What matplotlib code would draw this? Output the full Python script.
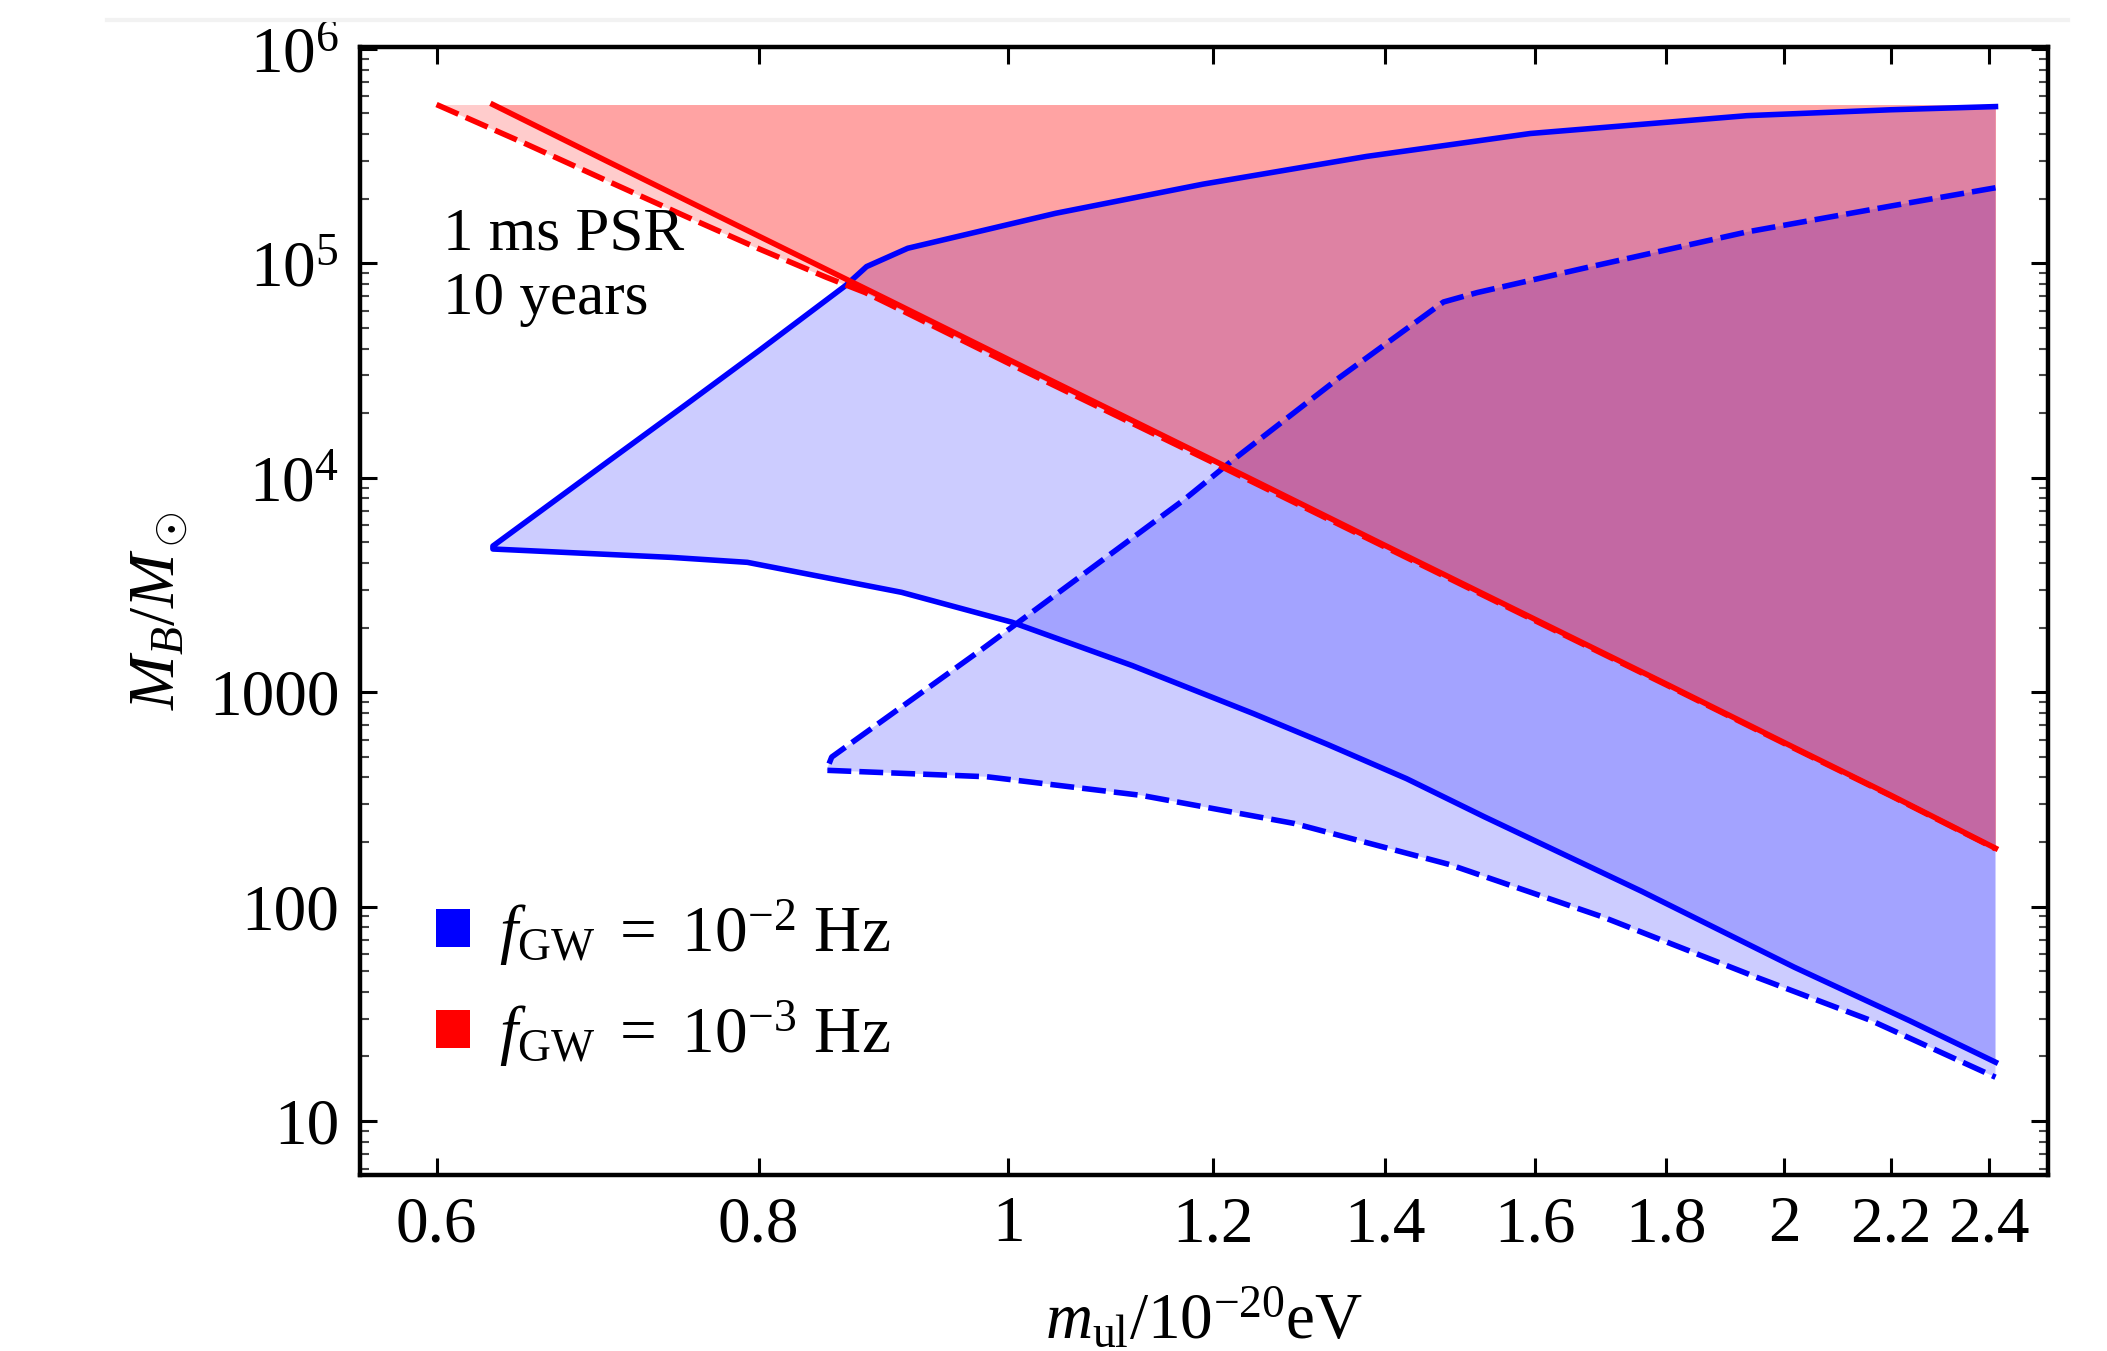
import matplotlib
matplotlib.use('Agg')
import matplotlib.pyplot as plt
from matplotlib.patches import Patch
from matplotlib.ticker import NullLocator, LogLocator, NullFormatter

plt.rcParams['font.family'] = ['Liberation Serif', 'DejaVu Serif']
plt.rcParams['mathtext.fontset'] = 'custom'
plt.rcParams['mathtext.rm'] = 'Liberation Serif'
plt.rcParams['mathtext.it'] = 'Liberation Serif:italic'
plt.rcParams['mathtext.bf'] = 'Liberation Serif:bold'

# --- data (m_ul in 1e-20 eV, M_B in solar masses) ---
M_top = 5.5e5  # upper edge of the shaded f=1e-3 Hz regions

# f_GW = 1e-3 Hz, solid
m_red_solid = [0.631, 0.7, 0.8, 0.9, 1.0, 1.2, 1.4, 1.6, 1.8, 2.0, 2.2, 2.415]
M_red_solid = [5.5e5, 2.96e5, 1.34e5, 6.67e4, 3.56e4, 1.21e4, 4.83e3, 2.19e3, 1.09e3, 581, 330, 187]

# f_GW = 1e-3 Hz, dashed
m_red_dash = [0.6, 0.65, 0.7, 0.75, 0.8, 0.85, 0.88, 0.9, 1.0, 1.2, 1.4, 1.6, 1.8, 2.0, 2.2, 2.415]
M_red_dash = [5.5e5, 3.6e5, 2.4e5, 1.65e5, 1.17e5, 8.6e4, 7.3e4, 6.4e4, 3.42e4, 1.18e4, 4.75e3, 2.16e3, 1.08e3, 576, 328, 186]

# f_GW = 1e-2 Hz, solid (closed region: upper and lower edge)
m_blue_up = [0.631, 0.70, 0.75, 0.80, 0.865, 0.881, 0.914, 1.043, 1.19, 1.377, 1.594, 1.934, 2.2, 2.415]
M_blue_up = [4800, 1.2e4, 2.2e4, 3.9e4, 7.9e4, 9.65e4, 1.175e5, 1.71e5, 2.34e5, 3.15e5, 4.03e5, 4.88e5, 5.2e5, 5.38e5]
m_blue_lo = [0.631, 0.74, 0.792, 0.909, 1.003, 1.117, 1.245, 1.33, 1.427, 1.53, 1.76, 2.018, 2.236, 2.415]
M_blue_lo = [4650, 4250, 4030, 2920, 2120, 1330, 793, 570, 395, 262, 118, 52.1, 29.4, 18.8]

# f_GW = 1e-2 Hz, dashed
m_bdash_up = [0.850, 0.854, 0.977, 1.17, 1.22, 1.344, 1.475, 1.52, 1.673, 1.934, 2.2, 2.415]
M_bdash_up = [432, 498, 1590, 7900, 1.19e4, 2.93e4, 6.6e4, 7.3e4, 9.5e4, 1.40e5, 1.85e5, 2.25e5]
m_bdash_lo = [0.850, 0.981, 1.126, 1.291, 1.483, 1.701, 1.950, 2.161, 2.415]
M_bdash_lo = [432, 403, 330, 244, 157, 89.3, 46.9, 29.4, 16.0]

x_ticks = [0.6, 0.8, 1.0, 1.2, 1.4, 1.6, 1.8, 2.0, 2.2, 2.4]
x_tick_labels = ['0.6', '0.8', '1', '1.2', '1.4', '1.6', '1.8', '2', '2.2', '2.4']
y_ticks = [10, 100, 1000, 1e4, 1e5, 1e6]
y_tick_labels = ['10', '100', '1000', r'$10^4$', r'$10^5$', r'$10^6$']
legend_labels = [r'$f_{\rm GW}\ =\ 10^{-2}$ Hz', r'$f_{\rm GW}\ =\ 10^{-3}$ Hz']

fs = 47
lw = 4.0
dash = (0, (4.3, 1.45))

fig = plt.figure(figsize=(21.07, 13.51), dpi=100)
ax = fig.add_axes([0.1709, 0.1303, 0.8011, 0.8349])
ax.set_xscale('log')
ax.set_yscale('log')

# shaded regions
ax.fill(m_blue_up + m_blue_lo[::-1], M_blue_up + M_blue_lo[::-1], color='blue', alpha=0.2, lw=0)
ax.fill(m_bdash_up + m_bdash_lo[::-1], M_bdash_up + M_bdash_lo[::-1], color='blue', alpha=0.2, lw=0)
ax.fill_between(m_red_dash, M_red_dash, M_top, color='red', alpha=0.2, lw=0)
ax.fill_between(m_red_solid, M_red_solid, M_top, color='red', alpha=0.2, lw=0)

# boundary lines
ax.plot(m_blue_up[::-1] + m_blue_lo, M_blue_up[::-1] + M_blue_lo, color='blue', lw=lw)
ax.plot(m_bdash_up[::-1] + m_bdash_lo[1:], M_bdash_up[::-1] + M_bdash_lo[1:], color='blue', lw=lw, ls=dash)
ax.plot(m_red_dash, M_red_dash, color='red', lw=lw, ls=dash)
ax.plot(m_red_solid, M_red_solid, color='red', lw=lw)

ax.set_xlim(0.5604, 2.531)
ax.set_ylim(5.6, 1.02e6)

ax.set_xticks(x_ticks)
ax.set_xticklabels(x_tick_labels)
ax.xaxis.set_minor_locator(NullLocator())
ax.set_yticks(y_ticks)
ax.set_yticklabels(y_tick_labels)
ax.yaxis.set_minor_locator(LogLocator(base=10, subs=range(2, 10), numticks=20))
ax.yaxis.set_minor_formatter(NullFormatter())

ax.tick_params(which='both', direction='in', top=True, right=True)
ax.tick_params(which='major', length=12, width=2.2, labelsize=fs)
ax.tick_params(axis='x', which='major', pad=15)
ax.tick_params(axis='y', which='major', pad=15)
ax.tick_params(which='minor', length=6.5, width=1.5, color='#444444')
for s in ax.spines.values():
    s.set_linewidth(3.2)

ax.set_xlabel(r'$m_{\rm ul}/10^{-20}$eV', fontsize=fs)
ax.xaxis.set_label_coords(0.5, -0.099)
ax.set_ylabel(r'$M_B/M_\odot$', fontsize=fs)
ax.yaxis.set_label_coords(-0.101, 0.5)

ax.text(0.049, 0.858, '1 ms PSR\n10 years', transform=ax.transAxes,
        fontsize=44, va='top', ha='left', linespacing=1.2)

handles = [Patch(facecolor='blue', edgecolor='none'), Patch(facecolor='red', edgecolor='none')]
ax.legend(handles, legend_labels, loc='upper left', bbox_to_anchor=(0.045, 0.246),
          frameon=False, fontsize=fs, handlelength=0.52, handleheight=0.52,
          handletextpad=0.45, labelspacing=0.45, borderpad=0, borderaxespad=0)

# faint band along the top of the screenshot
fig.add_artist(plt.Line2D([0.051, 0.9815], [0.985, 0.985], transform=fig.transFigure,
                          color='#f2f2f2', lw=3))

fig.savefig('out.png', dpi=100)
